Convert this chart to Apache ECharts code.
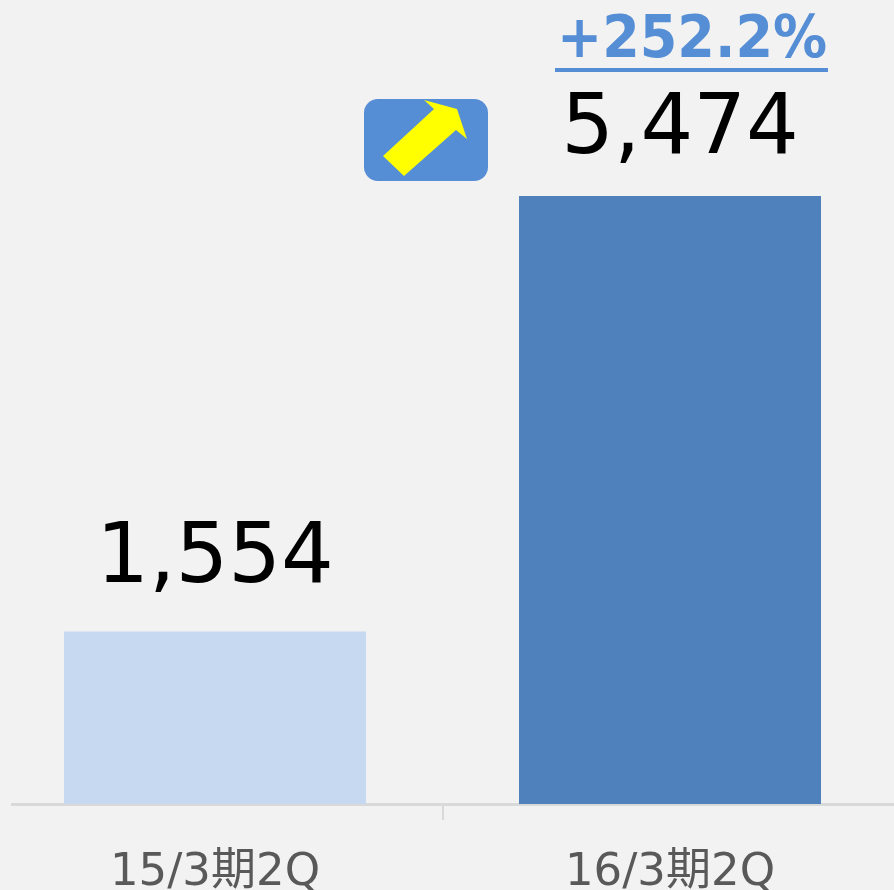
<!DOCTYPE html>
<html><head><meta charset="utf-8">
<style>html,body{margin:0;padding:0;background:#F2F2F2}#c{width:894px;height:890px}</style>
<script src="https://cdn.jsdelivr.net/npm/echarts@6/dist/echarts.min.js"></script>
</head><body><div id="c"></div>
<script>
const categories = ['15/3期2Q', '16/3期2Q'];
const values = [1554, 5474];
const barColors = ['#C6D9F1', '#4F81BD'];
const changeLabel = '+252.2%';
const font = '"DejaVu Sans","Noto Sans CJK JP",sans-serif';
const chart = echarts.init(document.getElementById('c'), null, {renderer:'canvas'});
chart.setOption({
  backgroundColor:'#F2F2F2',
  animation:false,
  grid:{left:-12.5,width:910,top:137.6,height:666.4,outerBoundsMode:'none'},
  xAxis:{type:'category',data:categories,
    axisLine:{show:false},
    axisTick:{show:false},
    axisLabel:{color:'#595959',fontSize:45,fontFamily:font,margin:47,interval:0}},
  yAxis:{type:'value',min:0,max:6000,show:false,splitLine:{show:false}},
  series:[{type:'bar',barWidth:302,
    data:values.map((v,i)=>({value:v,itemStyle:{color:barColors[i]},label:{offset:i?[10,3]:[0,-3]}})),
    label:{show:true,position:'top',distance:26,color:'#000',fontSize:83,fontFamily:font,
      formatter:p=>p.value.toLocaleString('en-US')}}],
  graphic:[
    {type:'rect',shape:{x:11,y:803,width:883,height:3},style:{fill:'#D9D9D9'},z:1},
    {type:'rect',shape:{x:442,y:804,width:2,height:16},style:{fill:'#D9D9D9'},z:1},
    {type:'rect',shape:{x:364,y:99,width:124,height:82,r:14},style:{fill:'#558ED5'}},
    {type:'polygon',shape:{points:[[383,156],[404,176],[456,130],[467,139],[457,109],[424,100],[434,109]]},style:{fill:'#FFFF00'}},
    {type:'text',x:692,y:42,scaleX:1,scaleY:1.1,style:{text:changeLabel,x:0,y:0,align:'center',verticalAlign:'middle',fill:'#558ED5',font:'bold 54px "DejaVu Sans",sans-serif'}},
    {type:'rect',shape:{x:555,y:68,width:273,height:4},style:{fill:'#558ED5'}}
  ]
});
</script></body></html>
